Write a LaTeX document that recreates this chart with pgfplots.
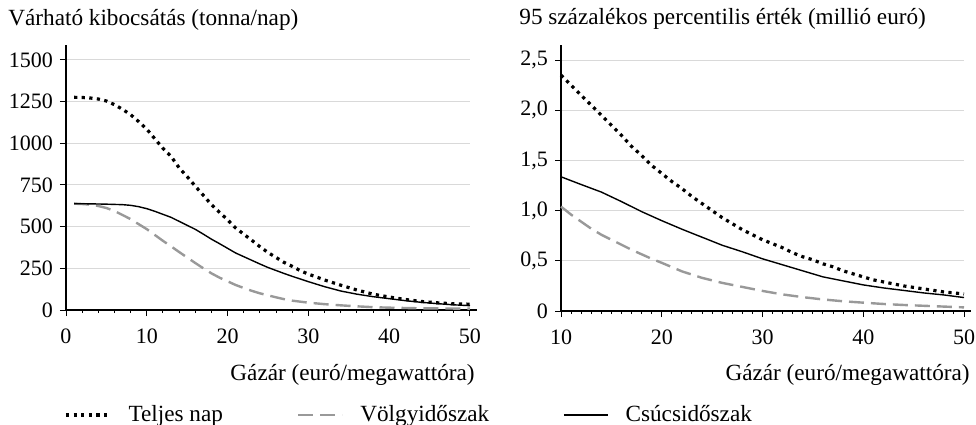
\documentclass[border=0pt]{standalone}
\usepackage{fontspec}
\setmainfont{Liberation Serif}
\usepackage{pgfplots}
\pgfplotsset{compat=1.18}
\definecolor{gridgray}{HTML}{D9D9D9}
\definecolor{dashgray}{HTML}{999999}
\newcommand{\lblfont}{\fontsize{11.6bp}{13.6bp}\selectfont}
\newcommand{\tckfont}{\fontsize{11bp}{13bp}\selectfont}
\pgfplotsset{
  mystyle/.style={
    scale only axis,
    axis x line*=bottom, axis y line*=left,
    axis line style={line width=0.6bp, black},
    x axis line style={shorten >=-3.5bp},
    tick align=outside,
    major tick length=3bp, minor tick length=1.5bp,
    every tick/.style={line width=0.5bp, black},
    ytick style={line width=0.5bp, black},
    ymajorgrids, major grid style={gridgray, line width=0.5bp},
    /pgf/number format/assume math mode=true,
    /pgf/number format/1000 sep={},
    ticklabel style={font=\tckfont},
    xticklabel style={yshift=-3bp},
    clip=false,
    title style={anchor=base west, inner sep=0pt, font=\lblfont},
    xlabel style={at={(rel axis cs:1,0)}, anchor=base east, inner sep=0pt, font=\lblfont},
  },
  dotstyle/.style={black, line width=1.6bp, dash pattern=on 1.6bp off 2.2bp},
  dashstyle/.style={dashgray, line width=1.2bp, dash pattern=on 7.5bp off 3.5bp},
  solidstyle/.style={black, line width=0.7bp},
}
\begin{document}
\begin{tikzpicture}
\path[use as bounding box] (0,0) rectangle (488bp,212.5bp);
\begin{axis}[mystyle,
  at={(33bp,57.5bp)}, anchor=south west,
  width=202bp, height=132.5bp,
  xmin=0, xmax=50, ymin=0, ymax=1590,
  xtick={0,10,20,30,40,50}, minor x tick num=4,
  ytick={0,250,500,750,1000,1250,1500},
  title={Várható kibocsátás (tonna/nap)},
  title style={at={(rel axis cs:0,1)}, xshift=-29bp, yshift=4bp},
  xlabel={Gázár (euró/megawattóra)},
  xlabel style={xshift=2.5bp, yshift=-35bp},
  legend columns=3,
  legend cell align=left,
  legend image code/.code={\draw[#1] (0bp,0bp) -- (22bp,0bp);},
  legend style={at={(rel axis cs:0,0)}, anchor=north west, yshift=-47.5bp, xshift=-1bp,
    draw=none, fill=none, inner sep=0pt, font=\lblfont,
    nodes={inner sep=0pt},
    /tikz/every odd column/.append style={column sep=8.5bp},
    /tikz/every even column/.append style={column sep=37bp}},
]
\addplot[dotstyle] coordinates {
(1,1276)(2,1275)(3,1272)(4,1266)(5,1254)(6,1232)(7,1204)(8,1172)(9,1130)(10,1085)
(11,1027)(12,970)(13,922)(14,853)(15,800)(16,743)(17,688)(18,632)(19,586)(20,541)
(21,492)(22,455)(23,418)(24,380)(25,345)(26,315)(27,285)(28,262)(29,236)(30,215)
(31,198)(32,180)(34,149)(36,120)(38,95)(40,78)(42,63)(44,51)(46,43)(48,37)(50,35)};
\addlegendentry{Teljes nap}
\addplot[dashstyle] coordinates {
(1,638)(2,636)(3,632)(4,624)(5,612)(6,594)(7,570)(8,545)(9,515)(10,485)
(11,450)(12,415)(13,382)(14,348)(15,315)(16,282)(17,250)(18,220)(19,194)(20,172)
(21,150)(22,132)(23,115)(24,100)(25,88)(26,76)(27,65)(28,56)(30,44)(32,35)
(34,28)(36,22)(38,17)(40,14)(42,12)(44,10)(47,9)(50,8)};
\addlegendentry{Völgyidőszak}
\addplot[solidstyle] coordinates {
(1,638)(3,637)(5,635)(7,632)(8,628)(9,620)(10,608)(11,592)(12,574)(13,556)
(14,532)(15,508)(16,484)(17,455)(18,425)(19,398)(20,370)(21,342)(22,320)(23,298)
(24,276)(25,255)(26,237)(27,219)(28,202)(29,186)(30,170)(31,155)(32,140)(34,114)
(36,95)(38,80)(40,68)(42,56)(44,46)(46,38)(48,31)(50,26)};
\addlegendentry{Csúcsidőszak}
\end{axis}
\begin{axis}[mystyle,
  at={(280.5bp,57bp)}, anchor=south west,
  width=201.5bp, height=133bp,
  xmin=10, xmax=50, ymin=0, ymax=2.65,
  xtick={10,20,30,40,50}, minor x tick num=9,
  ytick={0,0.5,1,1.5,2,2.5},
  yticklabels={0,{0,5},{1,0},{1,5},{2,0},{2,5}},
  title={95 százalékos percentilis érték (millió euró)},
  title style={at={(rel axis cs:0,1)}, xshift=-21bp, yshift=4.5bp},
  xlabel={Gázár (euró/megawattóra)},
  xlabel style={xshift=3bp, yshift=-34.5bp},
]
\addplot[dotstyle] coordinates {
(10,2.35)(11,2.25)(12,2.15)(13,2.05)(14,1.95)(15,1.85)(16,1.75)(17,1.64)(18,1.55)(19,1.45)
(20,1.37)(21,1.29)(22,1.22)(23,1.14)(24,1.07)(25,1.0)(26,0.93)(27,0.87)(28,0.81)(29,0.76)
(30,0.71)(31,0.67)(32,0.63)(33,0.58)(34,0.54)(35,0.51)(36,0.47)(37,0.44)(38,0.40)(39,0.37)
(40,0.34)(41,0.31)(42,0.29)(43,0.27)(44,0.25)(45,0.235)(46,0.22)(47,0.205)(48,0.19)(49,0.18)(50,0.17)};
\addplot[dashstyle] coordinates {
(10,1.04)(11,0.96)(12,0.89)(13,0.82)(14,0.76)(15,0.71)(16,0.66)(17,0.61)(18,0.565)(19,0.52)
(20,0.48)(22,0.395)(24,0.33)(26,0.28)(28,0.24)(30,0.20)(32,0.165)(34,0.138)(36,0.115)(38,0.097)
(40,0.083)(42,0.07)(44,0.06)(46,0.052)(48,0.044)(50,0.036)};
\addplot[solidstyle] coordinates {
(10,1.337)(12,1.26)(14,1.185)(16,1.09)(18,0.99)(20,0.9)(22,0.815)(24,0.735)(26,0.655)(28,0.59)
(30,0.52)(32,0.46)(34,0.4)(36,0.34)(38,0.3)(40,0.26)(42,0.23)(44,0.205)(46,0.18)(48,0.16)(50,0.134)};
\end{axis}
\end{tikzpicture}
\end{document}
